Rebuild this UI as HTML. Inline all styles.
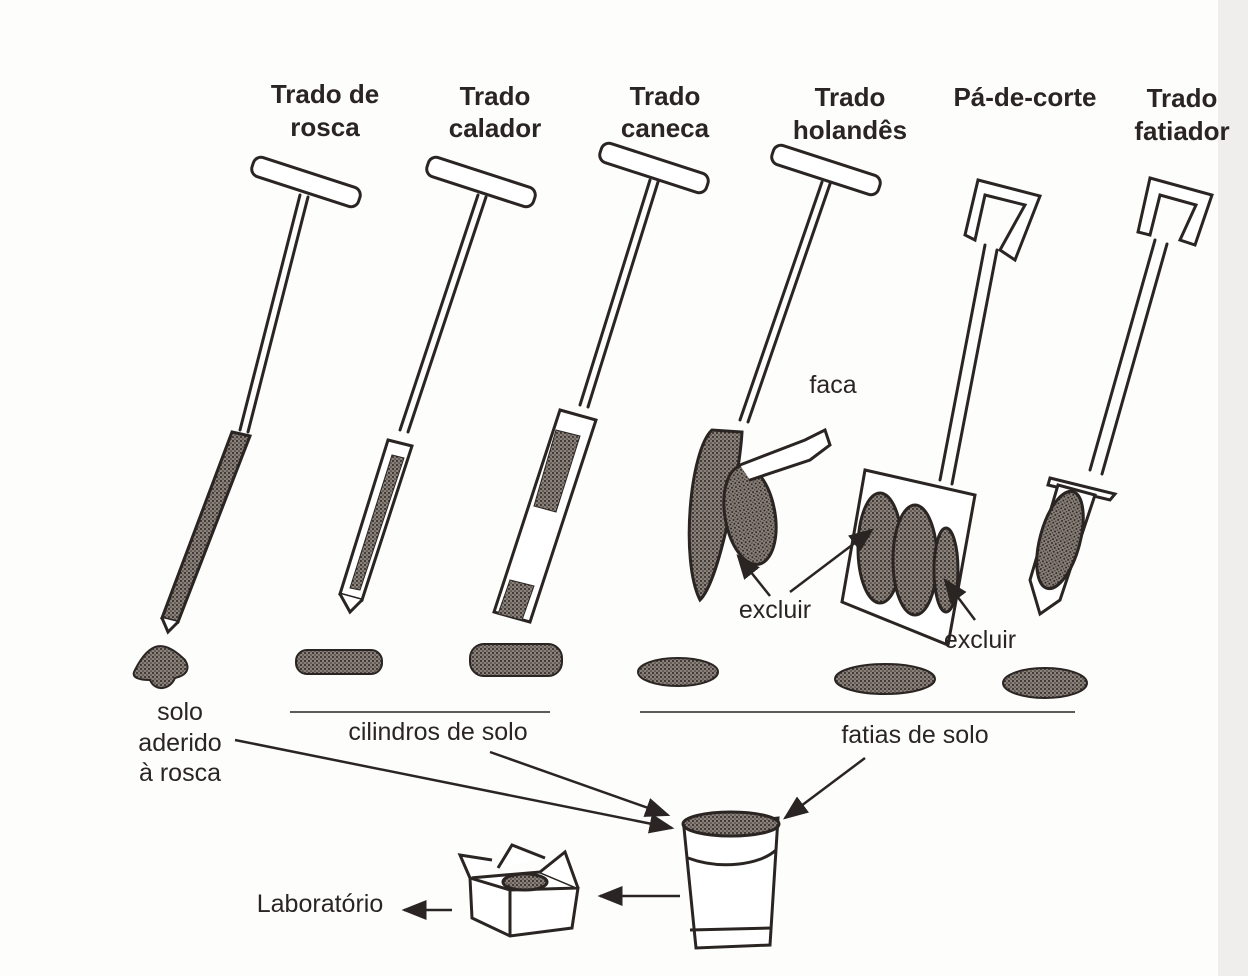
<!DOCTYPE html>
<html><head><meta charset="utf-8"><style>
html,body{margin:0;padding:0;background:#fff}
svg{display:block}
text{font-family:"Liberation Sans",sans-serif;fill:#2a2522}
.t{font-weight:bold;font-size:26px;text-anchor:middle}
.l{font-size:25px;text-anchor:middle}
</style></head><body>
<svg width="1248" height="976" viewBox="0 0 1248 976" xmlns="http://www.w3.org/2000/svg">
<defs>
<pattern id="st" width="4" height="4" patternUnits="userSpaceOnUse"><rect width="4" height="4" fill="#8a817a"/><circle cx="1" cy="1" r="1" fill="#2a2522"/><circle cx="3" cy="3" r="0.8" fill="#3a332e"/></pattern>
<marker id="a" markerWidth="10" markerHeight="10" refX="9" refY="5" orient="auto"><path d="M0,1 L10,5 L0,9 z" fill="#2a2522"/></marker>
</defs>
<rect width="1248" height="976" fill="#fdfdfc"/>
<rect x="1218" y="0" width="30" height="976" fill="#efeeed"/>
<text class="t" x="325" y="103">Trado de</text><text class="t" x="325" y="136">rosca</text>
<text class="t" x="495" y="105">Trado</text><text class="t" x="495" y="137">calador</text>
<text class="t" x="665" y="105">Trado</text><text class="t" x="665" y="137">caneca</text>
<text class="t" x="850" y="106">Trado</text><text class="t" x="850" y="139">holandês</text>
<text class="t" x="1025" y="106">Pá-de-corte</text>
<text class="t" x="1182" y="107">Trado</text><text class="t" x="1182" y="140">fatiador</text>
<g stroke="#2a2522" stroke-width="3" fill="#fff" stroke-linecap="round">
<rect x="250" y="172" width="112" height="20" rx="8" transform="rotate(18 306 182)"/>
<line x1="300" y1="195" x2="240" y2="430"/><line x1="308" y1="197" x2="248" y2="432"/>
<path d="M232,432 L250,436 L178,622 L162,618 z" fill="url(#st)"/>
<path d="M162,618 L168,632 L178,622"/>
<rect x="425" y="172" width="112" height="20" rx="8" transform="rotate(18 481 182)"/>
<line x1="478" y1="195" x2="400" y2="430"/><line x1="486" y1="197" x2="408" y2="432"/>
<path d="M388,440 L412,446 L362,600 L340,594 z"/>
<path d="M392,455 L404,458 L360,590 L350,588 z" fill="url(#st)" stroke-width="1"/>
<path d="M340,594 L350,612 L362,600"/>
<rect x="598" y="158" width="112" height="20" rx="8" transform="rotate(18 654 168)"/>
<line x1="650" y1="180" x2="580" y2="405"/><line x1="658" y1="182" x2="588" y2="407"/>
<path d="M560,410 L596,420 L530,622 L494,612 z"/>
<path d="M556,430 L580,436 L556,512 L534,506 z" fill="url(#st)" stroke-width="1"/>
<path d="M510,580 L534,586 L522,620 L498,614 z" fill="url(#st)" stroke-width="1"/>
<rect x="770" y="160" width="112" height="20" rx="8" transform="rotate(18 826 170)"/>
<line x1="822" y1="182" x2="740" y2="420"/><line x1="830" y1="184" x2="748" y2="422"/>
<path d="M712,430 C690,450 680,560 700,600 C720,580 740,470 742,432 z" fill="url(#st)"/>
<ellipse cx="750" cy="515" rx="25" ry="50" fill="url(#st)" transform="rotate(-10 750 515)"/>
<path d="M740,465 L805,440 L825,430 L830,445 L810,460 L750,480"/>
<path d="M978,180 L1040,196 L1015,260 L1000,250 L1025,205 L985,195 L975,240 L965,235 z"/>
<line x1="985" y1="245" x2="940" y2="480"/><line x1="997" y1="250" x2="952" y2="484"/>
<path d="M865,470 L975,495 L948,645 L842,602 z"/>
<ellipse cx="880" cy="548" rx="22" ry="55" fill="url(#st)"/>
<ellipse cx="915" cy="560" rx="22" ry="55" fill="url(#st)"/>
<ellipse cx="946" cy="570" rx="12" ry="42" fill="url(#st)"/>
<path d="M1150,178 L1212,195 L1195,245 L1180,240 L1196,205 L1160,195 L1150,235 L1138,232 z"/>
<line x1="1155" y1="240" x2="1090" y2="470"/><line x1="1167" y1="244" x2="1102" y2="474"/>
<path d="M1050,478 L1115,494 L1110,500 L1048,485 z"/>
<path d="M1058,485 L1095,495 L1060,600 L1040,614 L1030,580 z"/>
<ellipse cx="1060" cy="540" rx="20" ry="50" fill="url(#st)" transform="rotate(15 1060 540)"/>
</g>
<g stroke="#2a2522" stroke-width="2" fill="url(#st)">
<path d="M135,670 C150,640 165,640 185,660 C190,668 188,675 175,678 C170,690 155,692 150,680 C140,680 130,678 135,670 z"/>
<rect x="296" y="650" width="86" height="24" rx="11"/>
<rect x="470" y="644" width="92" height="32" rx="14"/>
<ellipse cx="678" cy="672" rx="40" ry="14"/>
<ellipse cx="885" cy="679" rx="50" ry="15"/>
<ellipse cx="1045" cy="683" rx="42" ry="15"/>
</g>
<g stroke="#2a2522" stroke-width="1.5">
<line x1="290" y1="712" x2="550" y2="712"/><line x1="640" y1="712" x2="1075" y2="712"/>
</g>
<text class="l" x="833" y="393">faca</text>
<text class="l" x="775" y="618">excluir</text>
<text class="l" x="980" y="648">excluir</text>
<text class="l" x="180" y="720">solo</text>
<text class="l" x="180" y="751">aderido</text>
<text class="l" x="180" y="781">à rosca</text>
<text class="l" x="438" y="740">cilindros de solo</text>
<text class="l" x="915" y="743">fatias de solo</text>
<text class="l" x="320" y="912">Laboratório</text>
<g stroke="#2a2522" stroke-width="2.5" fill="none" marker-end="url(#a)">
<line x1="770" y1="596" x2="738" y2="556"/>
<line x1="790" y1="592" x2="872" y2="530"/>
<line x1="975" y1="620" x2="945" y2="580"/>
<line x1="235" y1="740" x2="672" y2="828"/>
<line x1="490" y1="752" x2="668" y2="815"/>
<line x1="865" y1="758" x2="785" y2="818"/>
<line x1="680" y1="896" x2="600" y2="896"/>
<line x1="452" y1="910" x2="404" y2="910"/>
</g>
<g stroke="#2a2522" stroke-width="3" fill="#fff">
<path d="M684,828 L778,818 L770,945 L696,948 z"/>
<ellipse cx="731" cy="824" rx="48" ry="12" fill="url(#st)"/>
<path d="M688,858 C720,870 760,865 776,850" fill="none"/>
<path d="M690,930 L772,928" fill="none"/>
</g>
<g stroke="#2a2522" stroke-width="3" fill="#fff">
<path d="M470,878 L540,872 L578,888 L572,928 L510,936 L472,918 z"/>
<path d="M470,878 L510,890 L510,936"/>
<path d="M510,890 L578,888"/>
<path d="M470,878 L460,855 L492,860"/>
<path d="M540,872 L565,852 L578,888"/>
<path d="M498,868 L512,845 L545,858"/>
<ellipse cx="525" cy="882" rx="22" ry="8" fill="url(#st)"/>
</g>
</svg>
</body></html>
